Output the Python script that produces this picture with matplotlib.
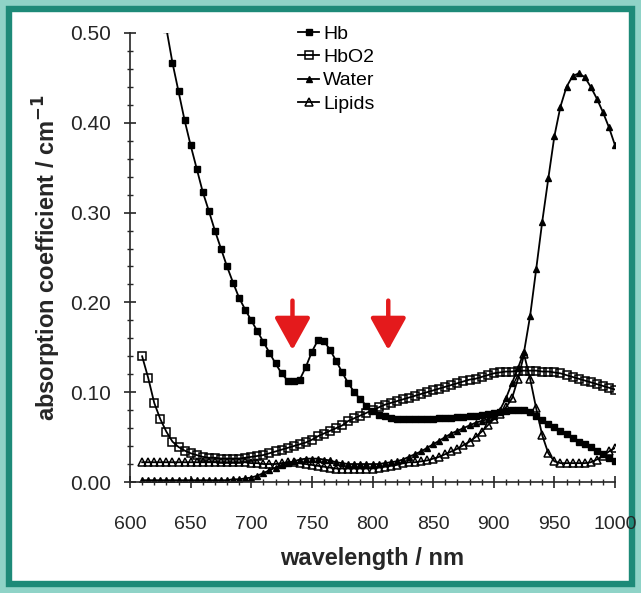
import matplotlib
matplotlib.use('Agg')
import matplotlib.pyplot as plt
from matplotlib.patches import Rectangle
from matplotlib.ticker import MultipleLocator, FormatStrFormatter

W, H, DPI = 641, 593, 100

# wavelength grid (nm), 5 nm steps from 610 to 1000
wavelength = list(range(610, 1001, 5))

# absorption coefficients (1/cm)
hb = [0.700, 0.650, 0.600, 0.550, 0.505, 0.467, 0.435, 0.403, 0.375, 0.349,
      0.323, 0.302, 0.280, 0.260, 0.240, 0.222, 0.205, 0.192, 0.180, 0.168,
      0.156, 0.144, 0.132, 0.121, 0.113, 0.113, 0.114, 0.128, 0.145, 0.158,
      0.157, 0.147, 0.135, 0.122, 0.110, 0.100, 0.092, 0.085, 0.079, 0.075,
      0.073, 0.071, 0.070, 0.070, 0.070, 0.070, 0.070, 0.070, 0.070, 0.071,
      0.071, 0.071, 0.072, 0.072, 0.073, 0.074, 0.075, 0.076, 0.077, 0.078,
      0.079, 0.080, 0.080, 0.080, 0.078, 0.074, 0.069, 0.065, 0.061, 0.057,
      0.053, 0.049, 0.045, 0.042, 0.039, 0.035, 0.031, 0.027, 0.023]

hbo2 = [0.140, 0.116, 0.088, 0.070, 0.056, 0.045, 0.039, 0.035, 0.032, 0.030,
        0.028, 0.027, 0.027, 0.026, 0.026, 0.026, 0.026, 0.027, 0.028, 0.029,
        0.030, 0.032, 0.034, 0.036, 0.038, 0.040, 0.042, 0.044, 0.047, 0.051,
        0.054, 0.057, 0.060, 0.063, 0.068, 0.071, 0.074, 0.077, 0.080, 0.083,
        0.086, 0.088, 0.090, 0.092, 0.094, 0.096, 0.098, 0.100, 0.102, 0.104,
        0.106, 0.108, 0.110, 0.112, 0.114, 0.115, 0.117, 0.119, 0.121, 0.122,
        0.123, 0.123, 0.124, 0.124, 0.124, 0.124, 0.123, 0.123, 0.122, 0.121,
        0.119, 0.117, 0.115, 0.113, 0.111, 0.109, 0.107, 0.105, 0.103]

water = [0.002, 0.002, 0.002, 0.002, 0.002, 0.002, 0.002, 0.002, 0.002, 0.002,
         0.002, 0.002, 0.002, 0.002, 0.002, 0.003, 0.003, 0.004, 0.005, 0.007,
         0.010, 0.013, 0.016, 0.019, 0.021, 0.023, 0.025, 0.026, 0.026, 0.026,
         0.025, 0.024, 0.022, 0.021, 0.020, 0.020, 0.020, 0.020, 0.020, 0.020,
         0.021, 0.022, 0.023, 0.025, 0.028, 0.031, 0.034, 0.038, 0.042, 0.046,
         0.050, 0.054, 0.057, 0.060, 0.063, 0.066, 0.068, 0.070, 0.073, 0.080,
         0.093, 0.110, 0.127, 0.145, 0.185, 0.237, 0.290, 0.338, 0.385, 0.418,
         0.440, 0.452, 0.455, 0.451, 0.440, 0.427, 0.412, 0.395, 0.375]

lipids = [0.022, 0.022, 0.022, 0.022, 0.022, 0.022, 0.022, 0.022, 0.022, 0.022,
          0.022, 0.022, 0.022, 0.022, 0.022, 0.022, 0.022, 0.022, 0.021, 0.021,
          0.020, 0.020, 0.020, 0.021, 0.022, 0.022, 0.021, 0.020, 0.019, 0.018,
          0.017, 0.016, 0.015, 0.015, 0.015, 0.015, 0.015, 0.015, 0.015, 0.016,
          0.017, 0.018, 0.019, 0.021, 0.022, 0.022, 0.023, 0.024, 0.026, 0.028,
          0.031, 0.034, 0.037, 0.041, 0.045, 0.050, 0.056, 0.063, 0.070, 0.076,
          0.083, 0.093, 0.115, 0.142, 0.115, 0.082, 0.052, 0.032, 0.023, 0.021,
          0.021, 0.021, 0.021, 0.021, 0.022, 0.025, 0.029, 0.034, 0.038]

# red arrows marking the two wavelengths of interest
arrow_nm = [734, 813]

plt.rcParams['font.family'] = ['Liberation Sans', 'DejaVu Sans']
INK = '#262626'

fig = plt.figure(figsize=(W / DPI, H / DPI), dpi=DPI)
fig.patch.set_facecolor('white')

ax = fig.add_axes([130 / W, 1 - 482 / H, (615 - 130) / W, (482 - 33) / H])

common = dict(color='black', lw=1.3)
ax.plot(wavelength, hb, marker='s', ms=4.6, mfc='black', mec='black', label='Hb', **common)
ax.plot(wavelength, hbo2, marker='s', ms=5.2, mfc='none', mec='black', mew=1.1, label='HbO2', **common)
ax.plot(wavelength, water, marker='^', ms=5.0, mfc='black', mec='black', label='Water', **common)
ax.plot(wavelength, lipids, marker='^', ms=5.2, mfc='none', mec='black', mew=1.1, label='Lipids', **common)

for x in arrow_nm:
    ax.annotate('', xy=(x, 0.147), xytext=(x, 0.202),
                arrowprops=dict(arrowstyle='-|>,head_width=0.5,head_length=0.9',
                                color='#e41a1c', lw=3.2, mutation_scale=22,
                                shrinkA=0, shrinkB=0))

ax.set_xlim(600, 1000)
ax.set_ylim(0, 0.5)
ax.xaxis.set_major_locator(MultipleLocator(50))
ax.xaxis.set_minor_locator(MultipleLocator(10))
ax.yaxis.set_major_locator(MultipleLocator(0.1))
ax.yaxis.set_minor_locator(MultipleLocator(0.02))
ax.yaxis.set_major_formatter(FormatStrFormatter('%.2f'))

for side in ['top', 'right']:
    ax.spines[side].set_visible(False)
for side in ['left', 'bottom']:
    ax.spines[side].set_linewidth(1.2)
    ax.spines[side].set_color(INK)

ax.tick_params(which='major', direction='inout', length=9, width=1.2,
               labelsize=15, colors=INK)
ax.tick_params(which='minor', direction='inout', length=5, width=1.0, colors=INK)
ax.tick_params(axis='x', which='major', pad=20, labelsize=14)
ax.tick_params(axis='y', which='major', pad=9)

ax.set_xlabel('wavelength / nm', fontsize=17, fontweight='bold', color=INK, labelpad=10)
ax.set_ylabel('absorption coefficient / cm$^{\\mathbf{-1}}$', fontsize=17,
              fontweight='bold', color=INK, labelpad=5)

fig.legend(loc='upper left', bbox_to_anchor=(298 / W, 1 - 25 / H), frameon=False,
           fontsize=14, numpoints=1, handlelength=1.1, handletextpad=0.2,
           labelspacing=0.3, borderpad=0, borderaxespad=0)

# teal frame around the whole picture, kept under the axes so "1000" stays readable
fig.patches.append(Rectangle((0, 0), 1, 1, transform=fig.transFigure, fill=False,
                             edgecolor='#8fd3c7', lw=10, zorder=-2))
fig.patches.append(Rectangle((9 / W, 9 / H), 1 - 18 / W, 1 - 18 / H,
                             transform=fig.transFigure, fill=False,
                             edgecolor='#1d8a78', lw=4.6, zorder=-1))

fig.savefig('out.png', dpi=DPI)
